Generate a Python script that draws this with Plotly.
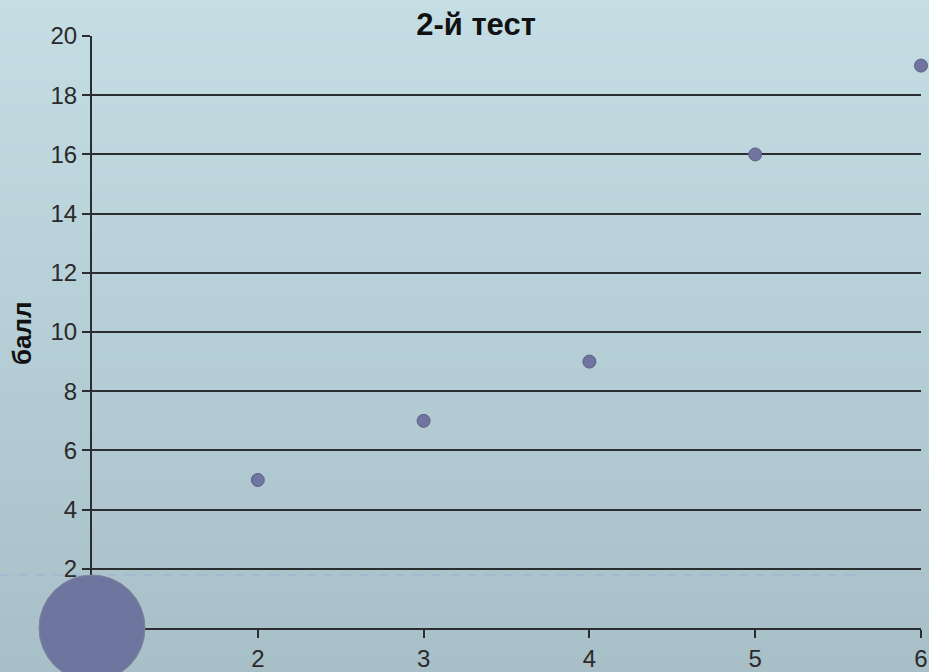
import plotly.graph_objects as go

x_vals = [2, 3, 4, 5, 6]
y_vals = [5, 7, 9, 16, 19]
big_x = [1]
big_y = [0]
y_ticks = [2, 4, 6, 8, 10, 12, 14, 16, 18, 20]
x_ticks = [2, 3, 4, 5, 6]

W, H = 929, 672
L, R, T, B = 92, 8, 36, 44
ph = H - T - B
pw = W - L - R

fig = go.Figure()

# gradient background bands (paper coords spanning the whole figure)
top = (196, 222, 228)
bot = (168, 191, 200)
n = 60
shapes = []
y0p = -B / ph
y1p = 1 + T / ph
for i in range(n):
    f = i / (n - 1)
    c = tuple(round(top[k] + (bot[k] - top[k]) * f) for k in range(3))
    ya = y1p - (y1p - y0p) * i / n
    yb = y1p - (y1p - y0p) * (i + 1) / n
    if i == 0:
        ya += 0.2
    if i == n - 1:
        yb -= 0.2
    shapes.append(dict(type="rect", xref="paper", yref="paper",
                       x0=-0.3, x1=1.3,
                       y0=yb - 0.001, y1=ya + 0.001, layer="below",
                       fillcolor="rgb(%d,%d,%d)" % c, line=dict(width=0)))
# decorative dashed line
yd = (H - B - 575) / ph
shapes.append(dict(type="line", xref="paper", yref="paper",
                   x0=-L / pw, x1=(858 - L) / pw, y0=yd, y1=yd,
                   layer="below", line=dict(color="rgba(150,175,215,0.85)", width=1, dash="dash")))

fig.add_trace(go.Scatter(x=x_vals, y=y_vals, mode="markers",
                         marker=dict(size=13, color="#7074a0",
                                     line=dict(color="#5c6080", width=1)),
                         cliponaxis=False, showlegend=False))
fig.add_trace(go.Scatter(x=big_x, y=big_y, mode="markers",
                         marker=dict(size=106, color="#6e76a0",
                                     line=dict(color="#7d8598", width=1)),
                         cliponaxis=False, showlegend=False))

fig.add_annotation(text="<b>балл</b>", xref="paper", yref="paper",
                   x=(22 - L) / pw, y=(H - B - 333) / ph, textangle=-90,
                   showarrow=False, xanchor="center", yanchor="middle",
                   font=dict(size=26, color="#111111"))

fig.update_layout(
    width=W, height=H,
    margin=dict(l=L, r=R, t=T, b=B, autoexpand=False),
    paper_bgcolor="rgb(182,206,214)",
    plot_bgcolor="rgba(0,0,0,0)",
    shapes=shapes,
    font=dict(family="Liberation Sans, Arial, sans-serif", color="#222222", size=24),
    title=dict(text="<b>2-й тест</b>", x=476 / W, xanchor="center", y=1 - 24 / H,
               yanchor="middle", font=dict(size=31, color="#111111")),
    xaxis=dict(range=[1, 6], tickvals=x_ticks, showgrid=False, zeroline=False,
               automargin=False,
               showline=True, linecolor="#2a2e30", linewidth=2,
               ticks="outside", ticklen=8, tickwidth=2, tickcolor="#2a2e30",
               tickfont=dict(size=24, color="#2a2a2a"), layer="below traces"),
    yaxis=dict(range=[0, 20], tickvals=y_ticks, showgrid=True, gridcolor="#2a2e30",
               automargin=False,
               gridwidth=2, zeroline=False, showline=True, linecolor="#2a2e30",
               linewidth=2, ticks="outside", ticklen=8, tickwidth=2, tickcolor="#2a2e30",
               tickfont=dict(size=24, color="#2a2a2a"), layer="below traces"),
)

fig.write_html("out.html", config={"displayModeBar": False},
               post_script=("document.documentElement.style.margin='0';"
                            "document.documentElement.style.overflow='hidden';"
                            "document.body.style.margin='0';"
                            "document.body.style.padding='0';"
                            "document.body.style.overflow='hidden';"))
